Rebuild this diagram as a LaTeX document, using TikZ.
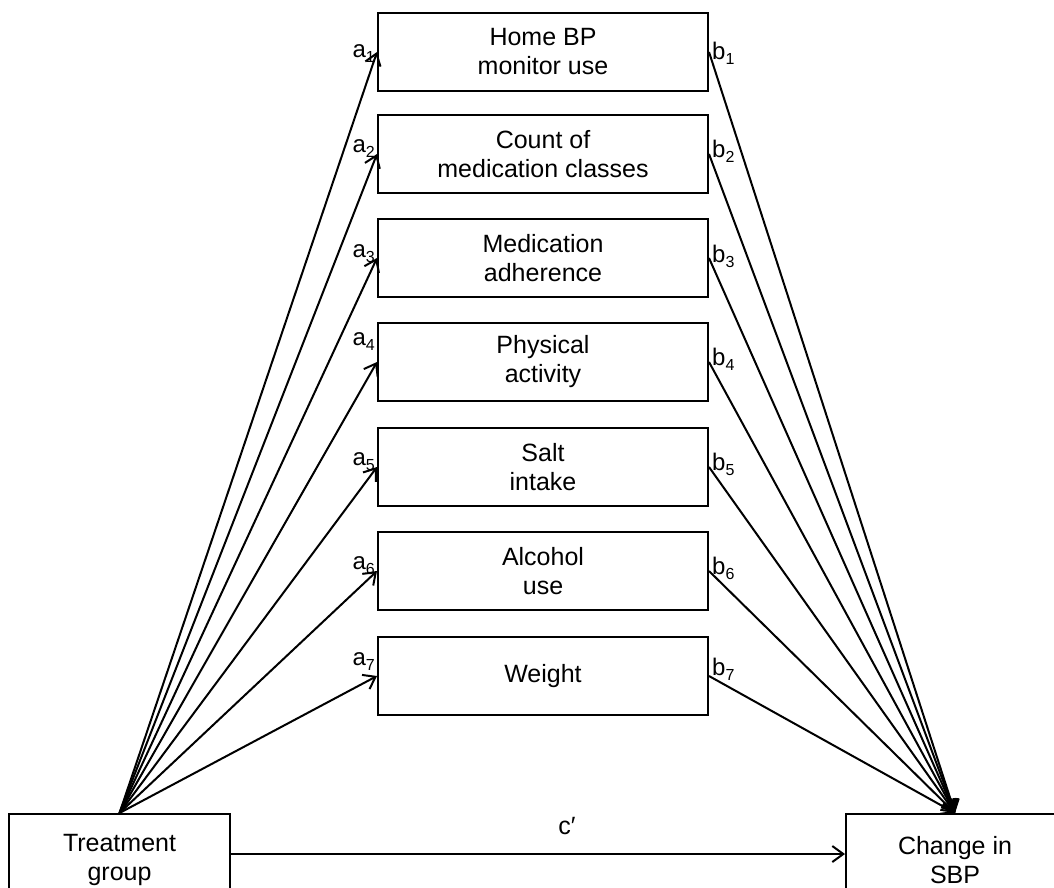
\documentclass[tikz,border=0pt]{standalone}
\usepackage{fontspec}
\setmainfont{Liberation Sans}
\usetikzlibrary{arrows.meta}
\newcommand\labsub[2]{#1\raisebox{-5pt}{\fontsize{16}{16}\selectfont #2}}
\begin{document}
\begin{tikzpicture}[x=1pt,y=-1pt,
  box/.style={draw, line width=2pt, minimum width=330pt, minimum height=78pt,
    align=center, inner sep=0pt, font=\fontsize{25}{29}\selectfont},
  endbox/.style={box, minimum height=92pt},
  lab/.style={inner sep=0pt, font=\fontsize{24}{24}\selectfont},
  arr/.style={-{Straight Barb[length=11pt,width=16pt,line width=2pt]}, line width=2pt}]
\useasboundingbox (0,0) rectangle (1054,887);
\fill[white] (0,0) rectangle (1054,887);
\node[box] (m1) at (543,52) {Home BP\\monitor use};
\node[box] (m2) at (543,154) {Count of\\medication classes};
\node[box] (m3) at (543,258) {Medication\\adherence};
\node[box] (m4) at (543,362) {Physical\\activity};
\node[box] (m5) at (543,467) {Salt\\intake};
\node[box] (m6) at (543,571) {Alcohol\\use};
\node[box] (m7) at (543,676) {Weight};
\node[endbox, minimum width=221pt] (t) at (119.5,860) {Treatment\\group};
\node[endbox, minimum width=218pt] (c) at (955,860) {Change in\\SBP};
\foreach \i/\ya/\yb in {1/57/59, 2/152/157, 3/257/262, 4/345/365, 5/465/470, 6/569/574, 7/665/675}{
  \draw[arr] (t.north) -- (m\i.west);
  \draw[arr] (m\i.east) -- (c.north);
  \node[lab, anchor=base east] (la\i) at (375,\ya) {\labsub{a}{\i}};
  \node[lab, anchor=base west] (lb\i) at (712,\yb) {\labsub{b}{\i}};
}
\coordinate (cs) at ([yshift=6pt]t.east);
\coordinate (ce) at ([yshift=6pt]c.west);
\draw[arr] (cs) -- (ce);
\node[lab, font=\fontsize{25}{25}\selectfont] (cp) at (567,826) {c′};
\end{tikzpicture}
\end{document}
